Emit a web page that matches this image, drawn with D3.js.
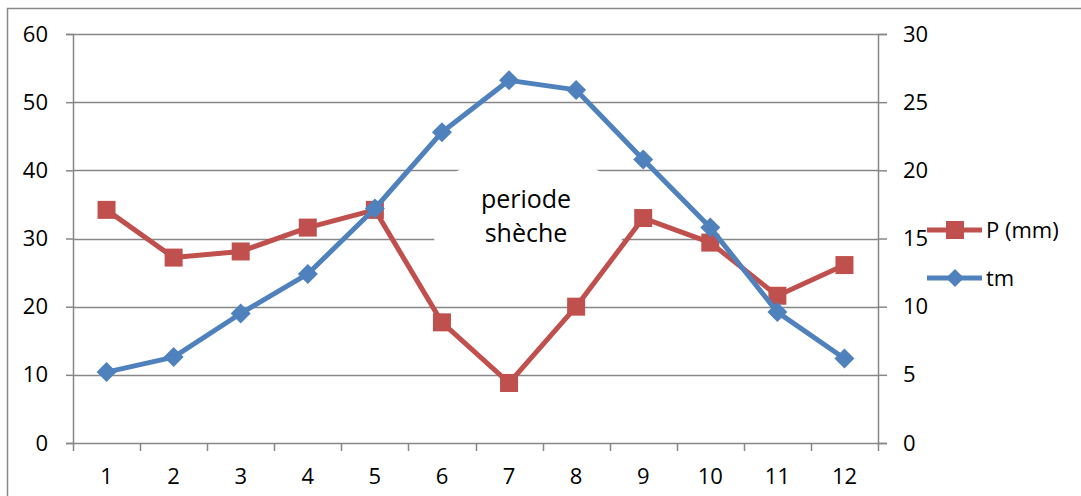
<!DOCTYPE html>
<html>
<head>
<meta charset="utf-8">
<script src="https://cdn.jsdelivr.net/npm/d3@7"></script>
<style>
  html, body { margin: 0; padding: 0; background: #fff; }
  svg { display: block; }
  text { font-family: "Open Sans", "Liberation Sans", sans-serif; fill: #000; }
</style>
</head>
<body>
<svg id="chart" width="1081" height="496"></svg>
<script>
const months = ["1","2","3","4","5","6","7","8","9","10","11","12"];
const precip = [34.2, 27.2, 28.1, 31.6, 34.2, 17.7, 8.8, 20.0, 33.0, 29.4, 21.6, 26.1];
const temp = [5.2, 6.3, 9.5, 12.4, 17.2, 22.8, 26.6, 25.9, 20.8, 15.8, 9.6, 6.2];
const leftTicks = [0, 10, 20, 30, 40, 50, 60];
const rightTicks = [0, 5, 10, 15, 20, 25, 30];
const seriesNames = ["P (mm)", "tm"];
const annotation = ["periode", "shèche"];

const svg = d3.select("#chart");
const W = 1081, H = 496;
const m = { left: 73, right: 878, top: 34, bottom: 443 };
const red = "#C0504D", blue = "#4F81BD", grey = "#878787";

// outer border
svg.append("rect").attr("x", 7.5).attr("y", 8.5).attr("width", W + 10).attr("height", H + 10)
  .attr("fill", "none").attr("stroke", grey).attr("stroke-width", 1.5);

const x = d3.scaleBand().domain(months).range([m.left, m.right]).padding(0);
const yL = d3.scaleLinear().domain([0, 60]).range([m.bottom, m.top]);
const yR = d3.scaleLinear().domain([0, 30]).range([m.bottom, m.top]);
const cx = d => x(d) + x.bandwidth() / 2;

// gridlines
svg.append("g").selectAll("line").data(leftTicks.filter(t => t > 0)).join("line")
  .attr("x1", m.left).attr("x2", m.right)
  .attr("y1", d => Math.round(yL(d)) + 0.5).attr("y2", d => Math.round(yL(d)) + 0.5)
  .attr("stroke", grey).attr("stroke-width", 1.5);

// white annotation shape covering gridlines
svg.append("ellipse").attr("cx", 528).attr("cy", 217).attr("rx", 100).attr("ry", 65)
  .attr("fill", "#fff");

// left axis
const gL = svg.append("g").attr("transform", `translate(${m.left},0)`)
  .call(d3.axisLeft(yL).tickValues(leftTicks).tickSize(7).tickPadding(18).tickFormat(d3.format("d")));
// right axis
const gR = svg.append("g").attr("transform", `translate(${m.right},0)`)
  .call(d3.axisRight(yR).tickValues(rightTicks).tickSize(9).tickPadding(16).tickFormat(d3.format("d")));
// bottom axis (labels only)
const gB = svg.append("g").attr("transform", `translate(0,${m.bottom})`)
  .call(d3.axisBottom(x).tickSize(0).tickPadding(25));
// bottom tick marks at band edges
const edges = months.map(d => x(d)).concat([x.range()[1]]);
gB.append("g").selectAll("line").data(edges).join("line")
  .attr("x1", d => Math.round(d) + 0.5).attr("x2", d => Math.round(d) + 0.5)
  .attr("y1", 0).attr("y2", 8).attr("stroke", grey).attr("stroke-width", 1.5);

[gL, gR, gB].forEach(g => {
  g.selectAll(".domain").attr("stroke", grey).attr("stroke-width", 1.5);
  g.selectAll(".tick line").attr("stroke", grey).attr("stroke-width", 1.5);
  g.selectAll("text").attr("font-size", 22).attr("font-family", "'Open Sans', sans-serif").attr("fill", "#000");
});
gB.selectAll(".domain").attr("d", `M${m.left},0.5H${m.right}`);

// lines
const lineP = d3.line().x((d, i) => cx(months[i])).y(d => yL(d));
const lineT = d3.line().x((d, i) => cx(months[i])).y(d => yR(d));

svg.append("path").datum(precip).attr("d", lineP).attr("fill", "none")
  .attr("stroke", red).attr("stroke-width", 5).attr("stroke-linejoin", "round");
svg.append("g").selectAll("rect").data(precip).join("rect")
  .attr("x", (d, i) => cx(months[i]) - 9).attr("y", d => yL(d) - 9)
  .attr("width", 18).attr("height", 18).attr("fill", red);

svg.append("path").datum(temp).attr("d", lineT).attr("fill", "none")
  .attr("stroke", blue).attr("stroke-width", 5).attr("stroke-linejoin", "round");
svg.append("g").selectAll("path").data(temp).join("path")
  .attr("transform", (d, i) => `translate(${cx(months[i])},${yR(d)})`)
  .attr("d", "M0,-10L10,0L0,10L-10,0Z").attr("fill", blue);

// annotation text
svg.append("g").selectAll("text").data(annotation).join("text")
  .attr("x", 526).attr("y", (d, i) => 208 + i * 34)
  .attr("text-anchor", "middle").attr("font-size", 25).text(d => d);

// legend
const leg = svg.append("g");
const legItems = [
  { name: seriesNames[0], color: red, y: 230, shape: "square" },
  { name: seriesNames[1], color: blue, y: 278, shape: "diamond" }
];
legItems.forEach(it => {
  leg.append("line").attr("x1", 927).attr("x2", 982).attr("y1", it.y).attr("y2", it.y)
    .attr("stroke", it.color).attr("stroke-width", 5);
  if (it.shape === "square") {
    leg.append("rect").attr("x", 955 - 9).attr("y", it.y - 9).attr("width", 18).attr("height", 18).attr("fill", it.color);
  } else {
    leg.append("path").attr("transform", `translate(955,${it.y})`).attr("d", "M0,-9L9,0L0,9L-9,0Z").attr("fill", it.color);
  }
  leg.append("text").attr("x", 986).attr("y", it.y + 8).attr("font-size", 22).text(it.name);
});
</script>
</body>
</html>
